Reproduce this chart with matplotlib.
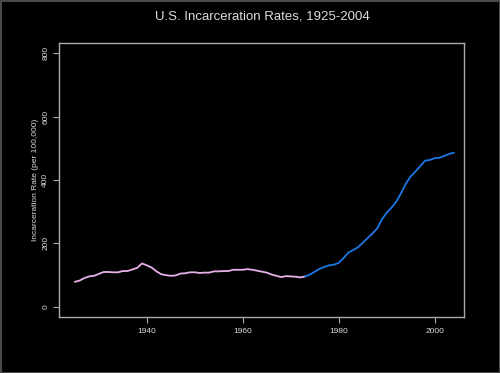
import matplotlib
matplotlib.use("Agg")
import matplotlib.pyplot as plt

years = list(range(1925, 2005))
rates = [79, 83, 91, 96, 98, 104, 110, 110, 109, 109,
         113, 113, 118, 123, 137, 131, 124, 112, 103, 100,
         98, 99, 105, 106, 109, 109, 107, 108, 108, 112,
         112, 113, 113, 117, 117, 117, 119, 117, 114, 111,
         108, 102, 98, 94, 97, 96, 95, 93, 96, 102,
         111, 120, 126, 131, 133, 139, 154, 171, 179, 188,
         202, 217, 231, 247, 276, 297, 313, 332, 359, 389,
         411, 427, 444, 461, 463, 469, 470, 476, 482, 486]
split_year = 1973
xticks = [1940, 1960, 1980, 2000]
yticks = [0, 200, 400, 600, 800]
title = "U.S. Incarceration Rates, 1925-2004"
ylabel = "Incarceration Rate (per 100,000)"

plt.rcParams['font.family'] = ['Liberation Sans', 'DejaVu Sans']
fig = plt.figure(figsize=(5.0, 3.73), dpi=100, facecolor='black')
fig.patch.set_edgecolor('#4a4a4a')
fig.patch.set_linewidth(1.0)
ax = fig.add_axes([0.118, 0.150, 0.810, 0.735], facecolor='black')

k = years.index(split_year)
ax.plot(years[:k + 1], rates[:k + 1], color='#EAB0EA', lw=1.3, solid_capstyle='round')
ax.plot(years[k:], rates[k:], color='#1C78E4', lw=1.3, solid_capstyle='round')

ax.set_xlim(1921.7, 2006.1)
ax.set_ylim(-32, 832)
ax.set_xticks(xticks)
ax.set_yticks(yticks)
ax.set_yticklabels([str(v) for v in yticks], rotation=90, va='center')
for s in ax.spines.values():
    s.set_color('#AAAAAA')
    s.set_linewidth(1.0)
ax.tick_params(colors='#AAAAAA', labelcolor='#DDDDDD', labelsize=6, length=4, width=0.8)
ax.tick_params(axis='x', pad=4)
ax.tick_params(axis='y', pad=3)
ax.set_ylabel(ylabel, color='#DDDDDD', fontsize=6, labelpad=2.5)
fig.text(0.524, 0.955, title, color='#DDDDDD', fontsize=9.5, ha='center', va='center')

fig.savefig('out.png', dpi=100, facecolor='black', edgecolor='#4a4a4a')
